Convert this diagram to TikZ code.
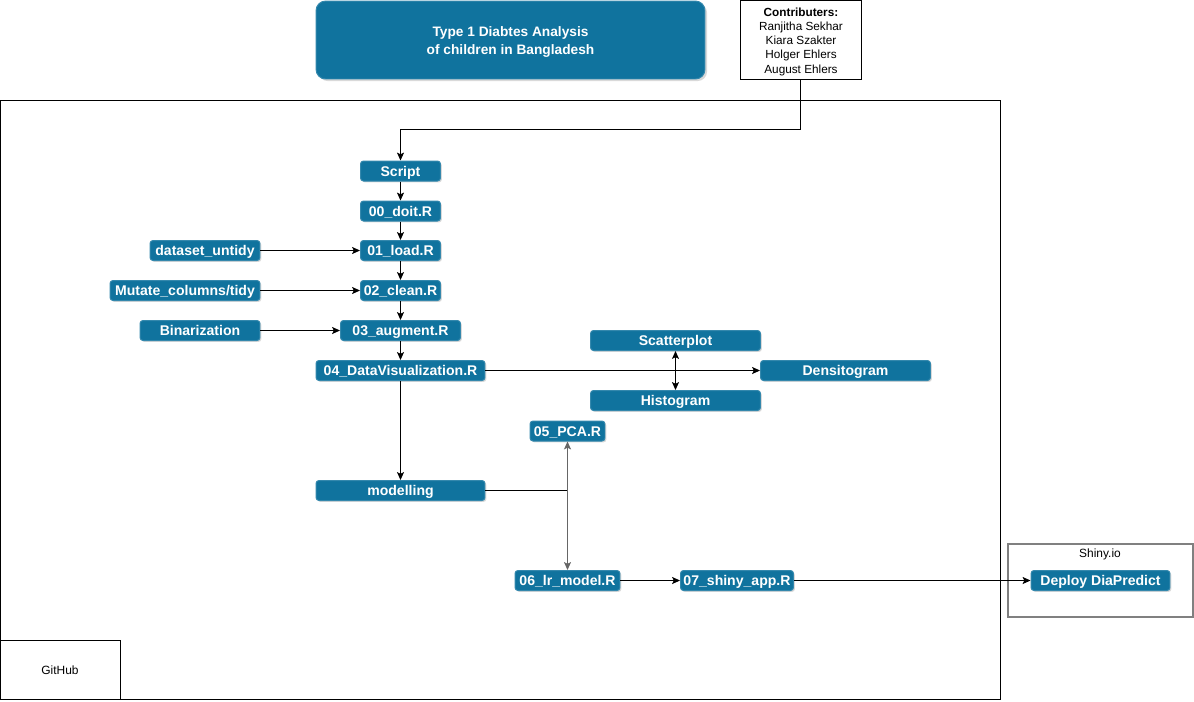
\documentclass[tikz,border=0pt]{standalone}
\usepackage{fontspec}
\setmainfont{Liberation Sans}
\usetikzlibrary{arrows.meta,shadows}
\definecolor{boxblue}{HTML}{10739E}
\definecolor{framegray}{HTML}{808080}
\begin{document}
\begin{tikzpicture}
[
 x=0.02cm, y=-0.02cm,
 line width=0.567pt,
 >={Stealth[length=4.5pt,width=4pt,inset=1pt]},
 align=center,
 inner sep=0pt,
 script/.style={fill=boxblue,draw=boxblue!85!white,rounded corners=1.7pt,text=white,
   font=\fontsize{8}{9.5}\selectfont\bfseries,minimum height=0.4cm,
   text height=5.7pt,text depth=0pt,
   drop shadow={shadow xshift=0.8pt,shadow yshift=-0.8pt,opacity=0.3}},
 title/.style={fill=boxblue,draw=boxblue!85!white,rounded corners=5.5pt,text=white,
   font=\fontsize{7.8}{10.2}\selectfont\bfseries,minimum width=7.78cm,minimum height=1.56cm,
   drop shadow={shadow xshift=1.2pt,shadow yshift=-1.2pt,opacity=0.3}},
 note/.style={draw=black,rectangle,font=\fontsize{6.7}{8.1}\selectfont},
 label/.style={font=\fontsize{6.8}{8}\selectfont}
]
\useasboundingbox (0,0) rectangle (1194,701);
% frames
\draw (0.5,100.5) rectangle (1000.5,699.5);
\draw (0.5,640.5) rectangle (120.5,699.5);
\node (github) [label] at (60,670) {GitHub};
\draw [framegray,line width=1.2pt] (1008,544) rectangle (1193,617);
\node (shiny-io) [label] at (1100,554) {Shiny.io};
% header
\node (heading) [title] at (510.5,40) {};
\node (heading-text) [text=white,font=\fontsize{7.8}{10.2}\selectfont\bfseries] at (510.5,42)
  {Type 1 Diabtes Analysis\\of children in Bangladesh};
\node (contrib) [note,minimum width=2.42cm,minimum height=1.58cm] at (801,40) {};
\node (contrib-text) [font=\fontsize{6.7}{8.1}\selectfont] at (801,41.5)
  {\textbf{Contributers:}\\Ranjitha Sekhar\\Kiara Szakter\\Holger Ehlers\\August Ehlers};
% pipeline
\node (script) [script,minimum width=1.6cm] at (400.5,171) {Script};
\node (doit) [script,minimum width=1.6cm] at (400.5,211) {00\_doit.R};
\node (load) [script,minimum width=1.6cm] at (400.5,250.5) {01\_load.R};
\node (clean) [script,minimum width=1.6cm] at (400.5,290.5) {02\_clean.R};
\node (augment) [script,minimum width=2.4cm] at (400.5,330.5) {03\_augment.R};
\node (dataviz) [script,minimum width=3.38cm] at (400.5,370.5) {04\_DataVisualization.R};
\node (modelling) [script,minimum width=3.38cm] at (400.5,490.5) {modelling};
% inputs
\node (untidy) [script,minimum width=2.2cm] at (205,250.5) {dataset\_untidy};
\node (mutate) [script,minimum width=3cm] at (185,290.5) {Mutate\_columns/tidy};
\node (binar) [script,minimum width=2.4cm] at (200,330.5) {Binarization};
% plots
\node (scatter) [script,minimum width=3.4cm] at (675.5,340.5) {Scatterplot};
\node (densito) [script,minimum width=3.4cm] at (845.5,370.5) {Densitogram};
\node (histo) [script,minimum width=3.4cm] at (675.5,400.5) {Histogram};
% models
\node (pca) [script,minimum width=1.5cm] at (567.5,431) {05\_PCA.R};
\node (lr) [script,minimum width=2.1cm] at (567.5,580.5) {06\_lr\_model.R};
\node (shiny) [script,minimum width=2.26cm] at (737,580.5) {07\_shiny\_app.R};
\node (deploy) [script,minimum width=2.78cm] at (1100.5,580.5) {Deploy DiaPredict};
% connectors
\coordinate (bend) at (800.5,129.5);
\coordinate (split) at (567.5,490.5);
\draw[->] (contrib.south -| bend) -- (bend) -| (script.north);
\draw[->] (script) -- (doit);
\draw[->] (doit) -- (load);
\draw[->] (load) -- (clean);
\draw[->] (clean) -- (augment);
\draw[->] (augment) -- (dataviz);
\draw[->] (untidy) -- (load);
\draw[->] (mutate) -- (clean);
\draw[->] (binar) -- (augment);
\draw[->] (dataviz) -- (densito);
\draw[<->] (scatter) -- (histo);
\draw[->] (dataviz) -- (modelling);
\draw (modelling.east) -- (split);
\draw[<->,black!60] (pca) -- (lr);
\draw[->] (lr) -- (shiny);
\draw[->] (shiny) -- (deploy);
\end{tikzpicture}
\end{document}
